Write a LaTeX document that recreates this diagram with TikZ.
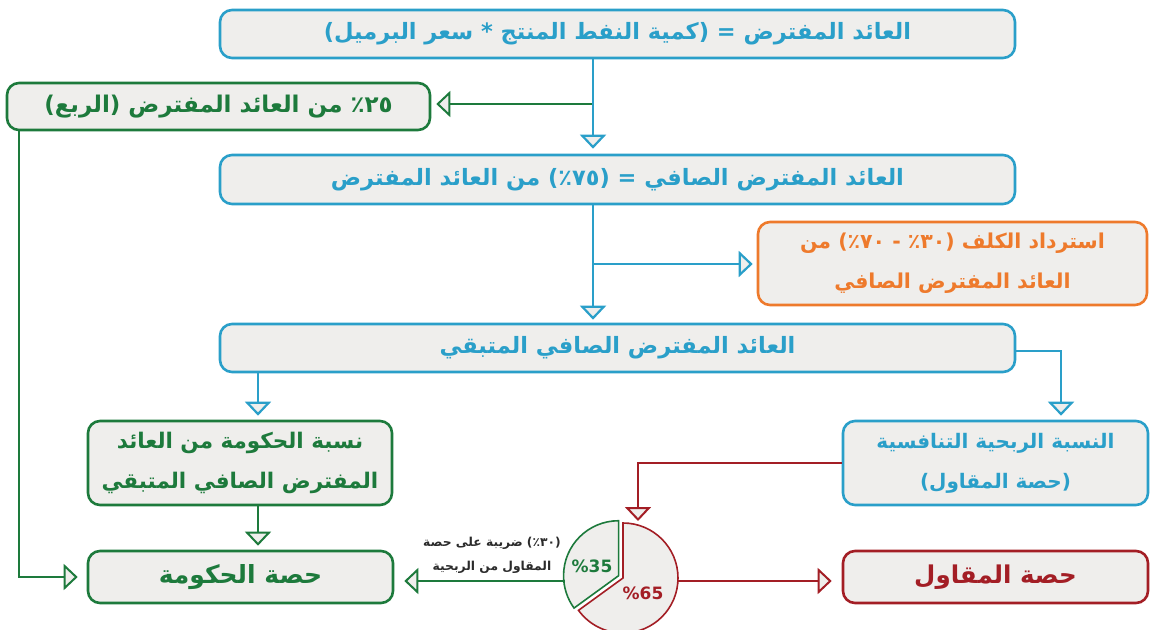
\documentclass[tikz,border=0pt]{standalone}
\usepackage{fontspec}
\TeXXeTstate=1
\newfontfamily\arabicfont[Script=Arabic]{DejaVu Sans}
\newfontfamily\latfont{DejaVu Sans}
\usetikzlibrary{arrows.meta}
\definecolor{cblue}{HTML}{2A9FC9}
\definecolor{cgreen}{HTML}{1D7A3C}
\definecolor{corange}{HTML}{EE7A2C}
\definecolor{cred}{HTML}{A31E25}
\definecolor{cfill}{HTML}{EFEEEC}
\definecolor{ctext}{HTML}{2B2B2B}
\newcommand\artxt[1]{\arabicfont\bfseries\beginR #1\endR}
\tikzset{
  boxbase/.style={line width=2.6pt, rounded corners=12pt, fill=cfill, inner sep=0pt, align=center,
    font=\fontsize{22.5}{40}\selectfont},
  bluebox/.style={boxbase, draw=cblue, text=cblue},
  greenbox/.style={boxbase, draw=cgreen, text=cgreen},
  orangebox/.style={boxbase, draw=corange, text=corange},
  redbox/.style={boxbase, draw=cred, text=cred},
  bline/.style={draw=cblue, line width=2.2pt},
  gline/.style={draw=cgreen, line width=2pt},
  rline/.style={draw=cred, line width=2pt},
  tri/.style={-{Triangle[length=14pt,width=26pt,fill=cfill]}},
}
\begin{document}
\begin{tikzpicture}[x=1pt,y=-1pt]
\useasboundingbox (0,0) rectangle (1156,629);
% boxes
\node[bluebox, minimum width=795pt, minimum height=48pt] (b1) at (617.5,34)
  {\artxt{العائد المفترض = (كمية النفط المنتج * سعر البرميل)}};
\node[greenbox, minimum width=423pt, minimum height=47pt, font=\fontsize{23}{40}\selectfont] (b2) at (218.5,106.5)
  {\artxt{٢٥٪ من العائد المفترض (الربع)}};
\node[bluebox, minimum width=795pt, minimum height=49pt] (b3) at (617.5,179.5)
  {\artxt{العائد المفترض الصافي = (٧٥٪) من العائد المفترض}};
\node[orangebox, minimum width=389pt, minimum height=83pt, font=\fontsize{20.5}{40}\selectfont] (b4) at (952.5,263.5)
  {\artxt{استرداد الكلف (٣٠٪ - ٧٠٪) من}\\\artxt{العائد المفترض الصافي}};
\node[bluebox, minimum width=795pt, minimum height=48pt] (b5) at (617.5,348)
  {\artxt{العائد المفترض الصافي المتبقي}};
\node[greenbox, minimum width=304pt, minimum height=84pt, font=\fontsize{21.5}{40}\selectfont] (b6) at (240,463)
  {\artxt{نسبة الحكومة من العائد}\\\artxt{المفترض الصافي المتبقي}};
\node[bluebox, minimum width=305pt, minimum height=84pt, font=\fontsize{20}{40}\selectfont] (b7) at (995.5,463)
  {\artxt{النسبة الربحية التنافسية}\\\artxt{(حصة المقاول)}};
\node[greenbox, minimum width=305pt, minimum height=52pt, font=\fontsize{25}{40}\selectfont] (b8) at (240.5,577)
  {\artxt{حصة الحكومة}};
\node[redbox, minimum width=305pt, minimum height=52pt, font=\fontsize{24.5}{40}\selectfont] (b9) at (995.5,577)
  {\artxt{حصة المقاول}};
% pie
\coordinate (pc) at (623,578);
\begin{scope}[shift={(pc)}, yscale=-1]
  \draw[rline, line width=1.6pt, fill=cfill] (0,0) -- (90:55) arc[start angle=90, end angle=-144, radius=55] -- cycle;
  \draw[gline, line width=1.6pt, fill=cfill, shift={(153:5)}] (0,0) -- (90:55) arc[start angle=90, end angle=216, radius=55] -- cycle;
\end{scope}
\node[text=cgreen, font=\latfont\bfseries\fontsize{17}{18}\selectfont] (p35) at (592,566) {\%35};
\node[text=cred, font=\latfont\bfseries\fontsize{17}{18}\selectfont] (p65) at (643,593) {\%65};
\node[text=ctext, align=center, font=\fontsize{12.3}{24}\selectfont] (lbl) at (492,555)
  {\artxt{(٣٠٪) ضريبة على حصة}\\\artxt{المقاول من الربحية}};
% connectors
\coordinate (j1) at (593,104);
\coordinate (j2) at (593,264);
\coordinate (g6) at (258,400);
\coordinate (r1) at (1061,351);
\coordinate (l1) at (19,577);
\coordinate (p1) at (638,463);
\coordinate (pt) at (638,525);
\coordinate (pr) at (678,581);
\coordinate (pl) at (565,581);
\draw[gline, tri, shorten >=5pt] (j1) -- (b2.east |- j1);
\draw[bline] (b1.south -| j1) -- (j1);
\draw[bline, tri, shorten >=5pt] (j1) -- (j1 |- b3.north);
\draw[bline] (b3.south -| j2) -- (j2);
\draw[bline, tri, shorten >=4pt] (j2) -- (b4.west |- j2);
\draw[bline, tri, shorten >=3pt] (j2) -- (j2 |- b5.north);
\draw[bline, tri, shorten >=4pt] (g6 |- b5.south) -- (g6 |- b6.north);
\draw[gline, tri, shorten >=4pt] (g6 |- b6.south) -- (g6 |- b8.north);
\draw[bline, tri, shorten >=4pt] (b5.east |- r1) -- (r1) -- (r1 |- b7.north);
\draw[gline, tri, shorten >=9pt] (l1 |- b2.south) -- (l1) -- (b8.west |- l1);
\draw[rline, tri, shorten >=4pt] (b7.west |- p1) -- (p1) -- (pt);
\draw[rline, tri, shorten >=10pt] (pr) -- (b9.west |- pr);
\draw[gline, tri, shorten >=10pt] (pl) -- (b8.east |- pl);
\end{tikzpicture}
\end{document}
